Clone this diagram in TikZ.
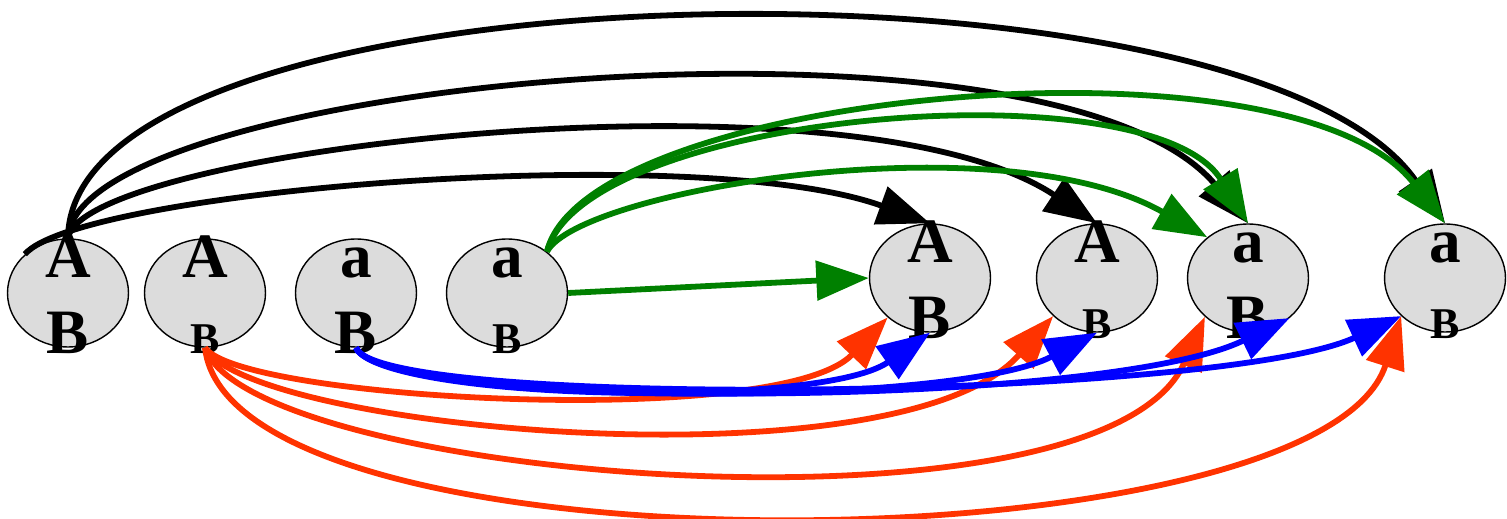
\documentclass[tikz,border=0pt]{standalone}
\usepackage{fontspec}
\setmainfont{Liberation Serif}
\usepackage{tikz}
\usetikzlibrary{arrows.meta,positioning,shapes.geometric,calc}

\definecolor{nodegray}{RGB}{220,220,220}
\definecolor{edgered}{RGB}{255,51,0}
\definecolor{edgegreen}{RGB}{0,128,0}
\newcommand{\smallB}{{\fontsize{25}{25}\selectfont B}}

\tikzset{
  geno/.style={ellipse, draw, line width=0.8pt, fill=nodegray,
    minimum width=2.42cm, minimum height=2.16cm, inner sep=0pt},
  allele/.style={font=\bfseries\fontsize{36}{36}\selectfont, anchor=base, inner sep=0pt},
  cross/.style={line width=3.3pt, -{Triangle[length=1.05cm,width=0.78cm]}},
}

\begin{document}
\begin{tikzpicture}[x=0.02cm, y=-0.02cm]
\useasboundingbox (0,0) rectangle (1507,519);

% genotypes: parents left, gametes right
\foreach \i/\x/\y/\up/\lo in {1/68/293/A/B, 2/205/293/A/\smallB, 3/356/293/a/B, 4/507/293/a/\smallB,
    5/930/278/A/B, 6/1097/278/A/\smallB, 7/1248/278/a/B, 8/1445/278/a/\smallB} {
  \node[geno] (n\i) at (\x,\y) {};
  \node[allele] (n\i up) at ($(n\i)+(0,-15)$) {\up};
  \node[allele] (n\i lo) at ($(n\i)+(0,61)$) {\lo};
}

% AB: black, over the top
\draw[cross] (n1.138) .. controls (80,190) and (700,140) .. (n5.north);
\draw[cross] (n1.north) .. controls (80,150) and (850,60) .. (n6.north);
\draw[cross] (n1.north) .. controls (75,80) and (1050,-10) .. (n7.north);
\draw[cross] (n1.north) .. controls (70,-40) and (1250,-60) .. (n8.north);

% ab: green
\draw[cross, edgegreen] (n4.east) -- (n5.west);
\draw[cross, edgegreen] (n4.46) .. controls (580,190) and (1000,120) .. (n7.135);
\draw[cross, edgegreen] (n4.46) .. controls (585,112) and (1150,65) .. (n7.north);
\draw[cross, edgegreen] (n4.46) .. controls (585,92) and (1290,25) .. (n8.north);

% Ab: red, underneath
\draw[cross, edgered] (n2.south) .. controls (240,400) and (780,430) .. (n5.223);
\draw[cross, edgered] (n2.south) .. controls (250,430) and (900,490) .. (n6.221);
\draw[cross, edgered] (n2.south) .. controls (250,480) and (1100,550) .. (n7.222);
\draw[cross, edgered] (n2.south) .. controls (230,580) and (1320,570) .. (n8.221);

% aB: blue
\draw[cross, blue] (n3.south) .. controls (380,400) and (820,410) .. (n5.south);
\draw[cross, blue] (n3.south) .. controls (380,405) and (950,410) .. (n6.south);
\draw[cross, blue] (n3.south) .. controls (380,410) and (1100,410) .. (n7.316);
\draw[cross, blue] (n3.south) .. controls (380,410) and (1220,400) .. (n8.221);
\end{tikzpicture}
\end{document}
